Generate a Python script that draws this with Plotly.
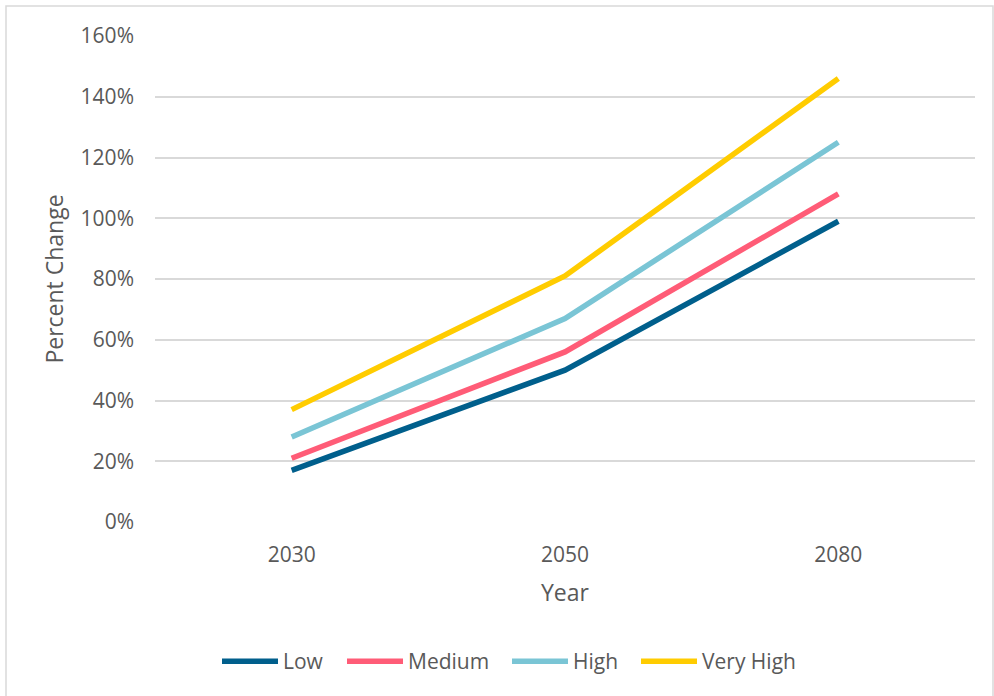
import plotly.graph_objects as go

years = ["2030", "2050", "2080"]
series_names = ["Low", "Medium", "High", "Very High"]
low = [0.17, 0.50, 0.99]
medium = [0.21, 0.56, 1.08]
high = [0.28, 0.67, 1.25]
very_high = [0.37, 0.81, 1.46]
colors = ["#005F8C", "#FF5C77", "#7AC5D5", "#FFCC00"]
y_ticks = [0, 0.2, 0.4, 0.6, 0.8, 1.0, 1.2, 1.4, 1.6]

FONT = "Open Sans, Noto Sans, sans-serif"
TXT = "#595959"

# legend entry left edges in pixels (layout only)
legend_px = [223, 348, 513, 642]
legend_ids = ["legend", "legend2", "legend3", "legend4"]

fig = go.Figure()
for name, vals, col, lid in zip(series_names, [low, medium, high, very_high], colors, legend_ids):
    fig.add_trace(go.Scatter(x=years, y=vals, name=name, mode="lines",
                             line=dict(color=col, width=5.5), legend=lid))

legend_common = dict(orientation="h", xanchor="left", yref="container",
                     y=1 - 641 / 696, yanchor="top",
                     font=dict(size=21, color=TXT), itemwidth=56,
                     bgcolor="rgba(0,0,0,0)", borderwidth=0)
legend_layout = {}
for lid, px in zip(legend_ids, legend_px):
    legend_layout[lid] = dict(legend_common, x=(px - 155 - 6) / 820)

fig.update_layout(
    width=994, height=696,
    margin=dict(l=155, r=19, t=36, b=174),
    paper_bgcolor="white", plot_bgcolor="white",
    font=dict(family=FONT, color=TXT, size=21),
    showlegend=True,
    xaxis=dict(type="category", range=[-0.5, 2.5], showgrid=False, zeroline=False,
               showline=False, ticks="", ticklabelstandoff=18,
               title=dict(text="Year", font=dict(size=23, color=TXT), standoff=17)),
    yaxis=dict(range=[0, 1.6], tickvals=y_ticks, tickformat=".0%", showgrid=True,
               gridcolor="#D9D9D9", gridwidth=1.5, zeroline=False, showline=False,
               ticks="", ticklabelstandoff=20,
               title=dict(text="Percent Change", font=dict(size=23, color=TXT), standoff=10)),
    shapes=[dict(type="rect", xref="paper", yref="paper",
                 x0=(6 - 155) / 820, x1=(993 - 155) / 820,
                 y0=(522 - 700) / 486, y1=(522 - 6) / 486,
                 line=dict(color="#D9D9D9", width=1.5), fillcolor="rgba(0,0,0,0)", layer="below")],
    **legend_layout,
)

fig.write_html("out.html")
